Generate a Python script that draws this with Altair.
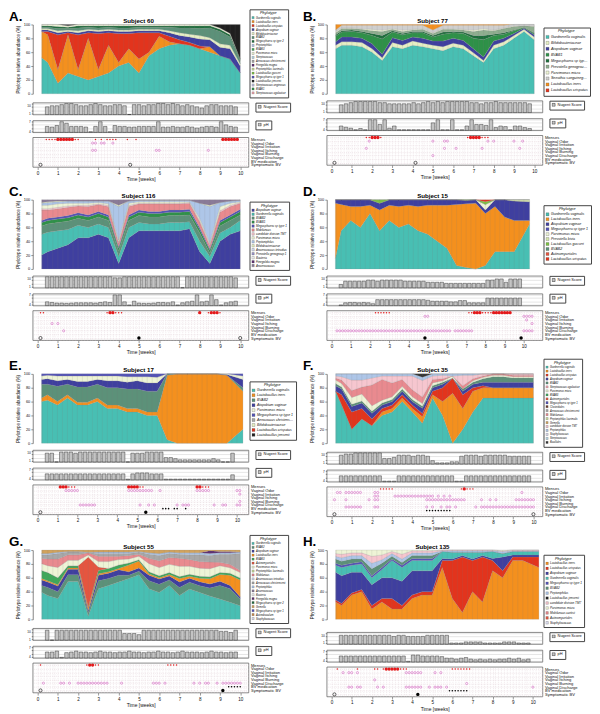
import altair as alt
import pandas as pd

# ---------------- data ----------------
T = [0.2, 0.5, 1.0, 1.5, 2.0, 2.5, 3.0, 3.5, 4.0, 4.5, 5.0, 5.5, 6.0, 6.5, 7.0, 7.5, 8.0, 8.5, 9.0, 9.5, 10.0]
T_LONG = [0.2, 0.5, 1.0, 1.5, 2.0, 2.5, 3.0, 3.5, 4.0, 4.5, 5.0, 5.5, 6.0, 6.5, 7.0, 7.5, 8.0, 8.5, 9.0, 9.5, 10.3]
TB = [0.25, 0.5, 0.75, 1.0, 1.25, 1.5, 1.75, 2.0, 2.25, 2.5, 2.75, 3.0, 3.25, 3.5, 3.75, 4.0, 4.25, 4.5, 4.75, 5.0,
      5.25, 5.5, 5.75, 6.0, 6.25, 6.5, 6.75, 7.0, 7.25, 7.5, 7.75, 8.0, 8.25, 8.5, 8.75, 9.0, 9.25, 9.5, 9.75, 10.0]

ROWS = ["Menses", "Vaginal Odor", "Vaginal Irritation", "Vaginal Itching", "Vaginal Burning",
        "Vaginal Discharge", "BV medication", "Symptomatic BV"]

COLORS = {
    "Gardnerella vaginalis": "#48bfb3", "Lactobacillus iners": "#f4901e", "Lactobacillus crispatus": "#e2341d",
    "Atopobium vaginae": "#3f3f9f", "Bifidobacteriaceae": "#e6efc4", "BVAB1": "#2e9148", "BVAB2": "#5c9179",
    "BVAB3": "#3fa85a", "Megasphaera sp type 1": "#5252b8", "Megasphaera sp type 2": "#1e6e3c",
    "Peptoniphilus": "#aec6e8", "Parvimonas micra": "#eef4d6", "Streptococcus": "#b7d7e6",
    "Aerococcus christensenii": "#a8a8a8", "Finegoldia magna": "#5d2c70", "Peptoniphilus lacrimalis": "#c9dd9a",
    "Lactobacillus gasseri": "#7cc242", "Lactobacillus jensenii": "#1f1f1f", "Streptococcus anginosus": "#c5c5e5",
    "Streptococcus agalactiae": "#f2a6b0", "Prevotella genogroup 2": "#8fae8f", "Prevotella genogroup 1": "#9a94c8",
    "Prevotella bivia": "#d5e5ad", "Sneathia sanguinegens": "#cfcfcf", "Mobiluncus": "#e98a8f",
    "Mobiluncus curtisii": "#e98a8f", "candidate division TM7": "#f6c6cf", "Anaerococcus": "#8a7b98",
    "Anaerococcus tetradius": "#d3dbf2", "Actinomycetales": "#e5553f", "Clostridiales": "#6b3a2a",
    "Gemella": "#d2a35c", "Staphylococcus": "#dcdcf0", "Bacillales": "#333333", "Bacteria": "#f2f2f2",
    "Actinobaculum": "#c98a4b",
}

# Subject 60 (A)
A_legend = ["Gardnerella vaginalis", "Lactobacillus iners", "Lactobacillus crispatus", "Atopobium vaginae",
            "Bifidobacteriaceae", "BVAB2", "Megasphaera sp type 2", "Peptoniphilus", "BVAB3", "Parvimonas micra",
            "Streptococcus", "Aerococcus christensenii", "Finegoldia magna", "Peptoniphilus lacrimalis",
            "Lactobacillus gasseri", "Megasphaera sp type 1", "Lactobacillus jensenii", "Streptococcus anginosus",
            "BVAB1", "Streptococcus agalactiae"]
A_series = {
    "Gardnerella vaginalis": [52, 45, 15, 30, 25, 20, 25, 30, 40, 45, 30, 55, 65, 70, 72, 70, 65, 60, 55, 50, 30],
    "Lactobacillus iners": [38, 40, 20, 55, 10, 60, 10, 40, 5, 20, 20, 5, 18, 5, 0, 0, 0, 8, 0, 0, 0],
    "Lactobacillus crispatus": [0, 5, 50, 3, 50, 8, 52, 18, 42, 22, 38, 28, 5, 8, 6, 4, 4, 0, 0, 0, 0],
    "Atopobium vaginae": [2, 2, 3, 2, 3, 3, 3, 3, 3, 3, 3, 3, 3, 5, 6, 8, 10, 10, 12, 15, 10],
    "Bifidobacteriaceae": [2, 2, 3, 2, 3, 2, 2, 2, 2, 2, 2, 2, 2, 3, 4, 4, 5, 3, 5, 5, 3],
    "BVAB2": [2, 2, 3, 2, 4, 3, 3, 3, 3, 3, 3, 3, 3, 5, 7, 9, 10, 14, 18, 12, 5],
    "Megasphaera sp type 2": [2, 2, 3, 2, 3, 2, 3, 2, 3, 3, 2, 2, 2, 2, 3, 3, 4, 3, 3, 3, 2],
    "Parvimonas micra": [2, 2, 3, 2, 2, 2, 2, 2, 2, 2, 2, 2, 2, 2, 2, 2, 2, 2, 2, 2, 0],
    "Lactobacillus jensenii": [0, 0, 0, 2, 0, 0, 0, 0, 0, 0, 0, 0, 0, 0, 0, 0, 0, 0, 5, 13, 50],
}
A_nug = [7, 8, 8, 9, 10, 10, 9, 8, 8, 9, 10, 9, 8, 8, 9, 9, 8, 0, 9, 9, 8, 9, 9, 10, 10, 9, 10, 9, 8, 9, 8, 7, 6, 8, 9, 9, 8, 8, 8, 7]
A_ph = [5.5, 5.3, 5.8, 7, 6.5, 5.5, 5.5, 5.5, 5.3, 3.8, 5.5, 7, 5.5, 3.8, 5.8, 5.5, 5.5, 5.3, 5.3, 5.5,
        5.5, 5.5, 5.5, 7, 5.3, 5.3, 5.5, 5.3, 5.3, 5.5, 5.3, 5, 5.3, 5.5, 5.5, 5.3, 7, 6, 5.5, 5.3]
A_ev = {"mlight": [3, 4, 5, 6, 13, 14, 20, 22, 24, 25, 26, 27, 31, 34],
        "mheavy": [7, 8, 9, 10, 11, 12, 64, 65, 66, 67, 68, 69],
        "odor": [19, 20, 22, 23, 26], "itch": [19, 20, 41, 42, 59], "sbv_open": [1, 32]}

# Subject 77 (B)
B_legend = ["Gardnerella vaginalis", "Bifidobacteriaceae", "Atopobium vaginae", "BVAB1", "Megasphaera sp type 2",
            "Prevotella genogroup 2", "Parvimonas micra", "Sneathia sanguinegens", "Lactobacillus iners",
            "Lactobacillus crispatus"]
B_series = {
    "Gardnerella vaginalis": [65, 70, 70, 68, 60, 48, 68, 65, 70, 68, 65, 62, 68, 65, 55, 45, 65, 70, 80, 90, 78],
    "Bifidobacteriaceae": [5, 5, 5, 6, 5, 4, 6, 5, 6, 5, 5, 6, 5, 5, 4, 3, 5, 5, 4, 3, 4],
    "Atopobium vaginae": [5, 7, 7, 6, 7, 5, 7, 7, 6, 7, 6, 8, 7, 7, 6, 5, 6, 5, 3, 2, 3],
    "BVAB1": [8, 7, 8, 8, 12, 22, 8, 8, 6, 8, 6, 10, 8, 10, 15, 25, 8, 6, 4, 1, 2],
    "Megasphaera sp type 2": [2, 2, 2, 2, 3, 5, 2, 2, 2, 2, 2, 3, 2, 2, 4, 6, 2, 2, 1, 0, 1],
    "Prevotella genogroup 2": [3, 3, 2, 3, 4, 6, 2, 3, 2, 3, 3, 4, 3, 3, 6, 8, 5, 6, 5, 2, 9],
    "Parvimonas micra": [2, 1, 1, 1, 2, 2, 1, 2, 1, 1, 1, 1, 1, 1, 2, 2, 1, 1, 1, 0, 1],
    "Sneathia sanguinegens": [2, 4, 4, 5, 6, 7, 5, 7, 6, 5, 4, 5, 5, 6, 7, 5, 7, 4, 2, 2, 2],
    "Lactobacillus iners": [8, 1, 1, 1, 1, 1, 1, 1, 1, 1, 8, 1, 1, 1, 1, 1, 1, 1, 0, 0, 0],
}
B_nug = [7, 8, 9, 10, 10, 10, 10, 10, 9, 9, 8, 8, 8, 8, 8, 9, 8, 9, 10, 9, 10, 9, 10, 10, 10, 10, 10, 9, 9, 8, 9, 9, 10, 9, 9, 9, 9, 9, 9, 8]
B_ph = [5, 4.6, 4.3, 3.8, 4.2, 3.8, 7, 7, 5.5, 7, 4.3, 5, 3.8, 3.8, 3.8, 3.8, 3.8, 3.8, 3.8, 6,
        7, 3.8, 3.8, 7, 3.8, 3.8, 5, 7, 5.5, 5.5, 5.2, 7, 4.5, 5, 4.8, 3.8, 5, 5, 4.5, 4.2]
B_ev = {"mlight": [12, 13, 17, 47, 52, 53, 54], "mheavy": [14, 15, 16, 48, 49, 50, 51],
        "odor": [13, 35, 39, 40, 54, 56, 63, 66], "itch": [12, 39, 43, 52, 65], "disch": [35],
        "sbv_open": [1, 29]}

# Subject 116 (C)
C_legend = ["Atopobium vaginae", "Gardnerella vaginalis", "BVAB2", "BVAB1", "Megasphaera sp type 1", "Mobiluncus",
            "candidate division TM7", "Parvimonas micra", "Peptoniphilus", "Bifidobacteriaceae",
            "Anaerococcus tetradius", "Prevotella genogroup 1", "Bacteria", "Finegoldia magna", "Anaerococcus"]
C_series = {
    "Atopobium vaginae": [20, 25, 30, 35, 45, 45, 50, 45, 8, 45, 55, 55, 55, 55, 55, 58, 25, 8, 40, 50, 55],
    "Gardnerella vaginalis": [30, 28, 25, 22, 18, 15, 15, 15, 10, 15, 12, 10, 10, 12, 12, 10, 15, 10, 12, 10, 15],
    "BVAB2": [12, 12, 12, 12, 10, 10, 10, 10, 8, 10, 10, 10, 10, 10, 10, 10, 12, 5, 10, 10, 8],
    "BVAB1": [5, 5, 5, 5, 5, 5, 5, 5, 4, 5, 5, 5, 5, 5, 5, 5, 5, 4, 5, 5, 5],
    "Megasphaera sp type 1": [3, 3, 3, 3, 3, 3, 3, 3, 2, 3, 3, 3, 3, 3, 3, 3, 3, 2, 3, 3, 3],
    "Mobiluncus": [15, 12, 12, 12, 10, 12, 10, 12, 5, 12, 9, 11, 11, 9, 9, 9, 8, 5, 12, 12, 9],
    "candidate division TM7": [2, 2, 2, 2, 1, 2, 1, 2, 2, 2, 1, 1, 1, 1, 1, 1, 2, 2, 2, 2, 1],
    "Parvimonas micra": [5, 5, 5, 4, 3, 3, 2, 2, 3, 3, 2, 2, 2, 2, 2, 1, 3, 2, 6, 3, 1],
    "Peptoniphilus": [3, 4, 3, 3, 3, 3, 2, 4, 48, 3, 2, 2, 2, 2, 2, 2, 22, 52, 6, 3, 2],
    "Bifidobacteriaceae": [1, 1, 1, 0, 0, 0, 0, 0, 2, 0, 0, 0, 0, 0, 0, 0, 0, 2, 0, 0, 0],
    "Anaerococcus": [4, 3, 2, 2, 2, 2, 2, 2, 8, 2, 1, 1, 1, 1, 1, 1, 5, 8, 4, 2, 1],
}
C_nug = [10, 10, 10, 10, 10, 10, 10, 10, 10, 10, 10, 10, 10, 10, 9, 9, 10, 10, 10, 10,
         10, 10, 10, 10, 10, 10, 10, 10, 0, 10, 10, 10, 10, 10, 10, 10, 10, 10, 10, 9]
C_ph = [4.8, 4.6, 4.4, 4.4, 4.3, 4.4, 4.5, 4.5, 4.5, 4.5, 4.4, 4.6, 4.8, 4.6, 7, 7, 4.8, 3.8, 5, 4.4,
        4.3, 4.3, 4.4, 4.6, 4.6, 4.5, 4.8, 3.8, 4.5, 4.8, 5, 7, 4.8, 5, 7, 5.5, 3.8, 4.5, 4.8, 5]
C_ev = {"mlight": [1, 2, 24, 27, 28, 29, 59, 63], "mheavy": [25, 26, 56, 60, 61, 62],
        "itch": [5, 7], "disch": [9], "sbv_open": [1, 70], "sbv_fill": [35]}

# Subject 15 (D)
D_legend = ["Gardnerella vaginalis", "Lactobacillus iners", "Atopobium vaginae", "Megasphaera sp type 1",
            "Parvimonas micra", "Prevotella bivia", "Lactobacillus gasseri", "BVAB2", "Actinomycetales",
            "Lactobacillus crispatus"]
D_series = {
    "Gardnerella vaginalis": [15, 55, 70, 60, 80, 55, 70, 60, 65, 55, 50, 40, 30, 5, 2, 0, 5, 25, 25, 25, 65],
    "Lactobacillus iners": [80, 38, 20, 30, 12, 30, 22, 30, 27, 35, 42, 52, 62, 88, 92, 95, 75, 65, 50, 45, 5],
    "Atopobium vaginae": [5, 7, 10, 10, 8, 10, 8, 10, 8, 10, 8, 8, 8, 7, 5, 5, 5, 10, 25, 28, 27],
    "Parvimonas micra": [0, 0, 0, 0, 0, 0, 0, 0, 0, 0, 0, 0, 0, 0, 0, 0, 8, 0, 0, 0, 0],
    "Prevotella bivia": [0, 0, 0, 0, 0, 0, 0, 0, 0, 0, 0, 0, 0, 0, 0, 0, 0, 0, 0, 2, 3],
    "Lactobacillus gasseri": [0, 0, 0, 0, 0, 5, 0, 0, 0, 0, 0, 0, 0, 0, 1, 0, 4, 0, 0, 0, 0],
    "Lactobacillus crispatus": [0, 0, 0, 0, 0, 0, 0, 0, 0, 0, 0, 0, 0, 0, 0, 0, 3, 0, 0, 0, 0],
}
D_nug = [3, 6, 6, 6, 6, 6, 7, 7, 6, 7, 7, 7, 7, 7, 6, 6, 6, 6, 6, 5, 5, 5, 5, 4, 4, 4, 4, 4, 4, 4, 4, 4, 7, 7, 8, 8, 5, 8, 8, 8]
D_ph = [3.8, 4.5, 4.6, 4.6, 4.5, 4.6, 4.5, 4.2, 5.5, 5.5, 5.5, 5.5, 5.5, 5.5, 5.5, 5.5, 5.5, 5.5, 5.5, 5.3,
        5, 5, 5, 5, 4.8, 4.8, 5.2, 5.2, 4.5, 4.5, 4.5, 4.5, 6, 6, 6, 6, 6, 6, 6, 6]
D_ev = {"mlight": [16, 17, 18, 19, 20, 21, 50, 51, 55, 56, 57, 58],
        "mheavy": [52, 53, 54, 59, 60, 61, 62, 63, 64, 65],
        "odor": [34, 35, 70, 71, 72, 73], "irrit": [71], "itch": [73],
        "disch": [2, 3, 4, 5, 6, 7, 8, 9, 10, 11, 12, 13, 14, 15, 16, 17, 18, 19, 20, 21, 22,
                  23, 24, 25, 26, 27, 28, 29, 30, 31, 32, 33, 34, 35, 36, 37, 38, 39, 40, 41, 42, 43,
                  45, 46, 47, 48, 49, 50, 51, 70, 71, 72, 73],
        "sbv_fill": [34, 69]}

# Subject 17 (E)
E_legend = ["Gardnerella vaginalis", "Lactobacillus iners", "BVAB2", "Atopobium vaginae", "Parvimonas micra",
            "Megasphaera sp type 1", "Aerococcus christensenii", "Bifidobacteriaceae", "Lactobacillus crispatus",
            "Lactobacillus jensenii"]
E_series = {
    "Gardnerella vaginalis": [60, 62, 55, 65, 55, 55, 60, 50, 50, 45, 45, 40, 40, 5, 0, 0, 0, 0, 0, 0, 20],
    "Lactobacillus iners": [5, 8, 5, 5, 4, 4, 5, 5, 5, 5, 5, 5, 5, 93, 100, 100, 100, 100, 100, 98, 55],
    "BVAB2": [20, 15, 22, 15, 22, 22, 20, 25, 25, 28, 28, 30, 30, 2, 0, 0, 0, 0, 0, 0, 5],
    "Atopobium vaginae": [7, 8, 8, 7, 8, 8, 7, 10, 10, 10, 12, 12, 12, 0, 0, 0, 0, 0, 0, 1, 12],
    "Parvimonas micra": [5, 5, 7, 5, 8, 8, 5, 7, 7, 8, 6, 9, 8, 0, 0, 0, 0, 0, 0, 1, 5],
    "Megasphaera sp type 1": [3, 2, 3, 3, 3, 3, 3, 3, 3, 4, 4, 4, 5, 0, 0, 0, 0, 0, 0, 0, 3],
}
E_nug = [8, 8, 0, 9, 9, 9, 8, 9, 9, 9, 9, 9, 9, 9, 9, 9, 9, 0, 8, 8, 8, 9, 9, 9, 9, 4, 4, 3, 2, 2, 2, 2, 2, 2, 2, 3, 2, 0, 0, 8]
E_ph = [5.5, 5.5, 5.5, 5.5, 5.5, 5.5, 5.5, 5.5, 5.5, 5.5, 5.5, 5.5, 5.5, 5.5, 5.5, 5.5, 5.5, 3.8, 5.5, 5.8,
        5.8, 5.8, 5.5, 5.5, 5.5, 3.8, 3.8, 3.8, 3.8, 3.8, 3.8, 3.8, 3.8, 3.8, 3.8, 3.8, 3.8, 3.8, 3.8, 5.2]
E_ev = {"mlight": [11, 12, 13, 36, 37, 58, 59, 60], "mheavy": [8, 9, 10, 32, 33, 34, 35, 56, 57],
        "odor": [10, 11, 12, 13, 14, 32, 33, 34, 35, 36, 37, 38, 39, 40, 43, 56, 57, 58, 59, 60, 70, 71],
        "irrit": [71], "burn": [71],
        "disch": [15, 16, 17, 18, 19, 20, 36, 39, 41, 49, 51, 52, 53, 62, 65, 66, 70, 71],
        "med": [44, 45, 46, 48, 49, 52], "sbv_open": [1], "sbv_fill": [38]}

# Subject 35 (F)
F_legend = ["Gardnerella vaginalis", "Lactobacillus iners", "Lactobacillus crispatus", "Atopobium vaginae", "BVAB2",
            "Streptococcus agalactiae", "Parvimonas micra", "BVAB3", "Actinomycetales", "Megasphaera sp type 1",
            "Clostridiales", "Aerococcus christensenii", "Mobiluncus", "Peptoniphilus lacrimalis", "Gemella",
            "candidate division TM7", "Peptoniphilus", "Staphylococcus", "Streptococcus", "Bacillales"]
F_series = {
    "Gardnerella vaginalis": [75, 55, 20, 35, 25, 40, 45, 60, 45, 30, 65, 40, 0, 20, 45, 65, 65, 65, 65, 65, 65],
    "Lactobacillus iners": [0, 0, 0, 0, 0, 5, 5, 5, 5, 10, 5, 20, 72, 30, 30, 15, 15, 15, 15, 15, 15],
    "Lactobacillus crispatus": [0, 15, 25, 15, 10, 5, 5, 5, 5, 5, 5, 20, 22, 20, 5, 3, 0, 0, 0, 0, 0],
    "Atopobium vaginae": [8, 8, 8, 8, 8, 5, 5, 5, 5, 8, 5, 5, 0, 5, 5, 5, 8, 8, 8, 8, 8],
    "BVAB2": [3, 3, 3, 3, 3, 3, 3, 3, 3, 3, 3, 3, 0, 3, 3, 5, 8, 8, 6, 6, 6],
    "Parvimonas micra": [5, 5, 10, 10, 8, 4, 4, 4, 4, 4, 4, 2, 3, 0, 2, 2, 2, 2, 2, 2, 2],
    "Mobiluncus": [3, 5, 10, 10, 30, 30, 20, 10, 10, 10, 5, 3, 0, 5, 3, 2, 2, 2, 2, 2, 2],
    "candidate division TM7": [3, 5, 15, 10, 10, 5, 10, 5, 20, 25, 5, 5, 0, 15, 5, 3, 0, 0, 2, 2, 2],
    "Peptoniphilus": [3, 4, 9, 9, 6, 3, 3, 3, 3, 5, 3, 2, 3, 2, 2, 0, 0, 0, 0, 0, 0],
    "Bacillales": [0, 0, 0, 0, 0, 0, 0, 0, 0, 5, 0, 0, 0, 0, 0, 0, 0, 0, 0, 0, 0],
}
F_nug = [8, 9, 9, 10, 10, 10, 10, 10, 10, 5, 5, 6, 8, 8, 8, 7, 8, 8, 7, 3, 1, 1, 1, 2, 2, 7, 8, 8, 8, 7, 8, 8, 8, 8, 8, 7, 7, 7, 7, 7]
F_ph = [5.5, 5.5, 5.5, 5.5, 5.5, 5.5, 5.5, 5.5, 5.5, 3.8, 3.8, 3.8, 5.5, 5.5, 5.5, 5.5, 5.5, 5.5, 5.5, 5.5,
        5.5, 5.5, 5.5, 5.5, 3.8, 3.8, 5.5, 5.5, 5.5, 5.5, 5.5, 5.5, 5.5, 5.5, 5.5, 5.5, 5.5, 5.5, 5.5, 5.5]
F_ev = {"mlight": [17, 18, 19, 20, 21, 45, 47, 48, 49], "mheavy": [46],
        "odor": [2, 3, 5, 6, 7, 8, 9, 10, 15, 16, 66],
        "irrit": [15, 16, 22, 23, 24, 25, 26, 27, 28, 29, 30, 31, 32, 33, 34, 35, 37, 39, 41],
        "itch": [1, 5, 13, 15, 16, 33, 34, 35, 36, 37, 38, 39, 40, 41, 42, 43, 44, 45, 46, 52, 55, 57,
                 64, 65, 66, 67, 68, 69, 70],
        "disch": [5, 6, 7, 8, 9, 10, 15, 16, 33, 35, 38, 40, 41, 43, 50, 52, 53, 54, 55, 56, 57,
                  58, 59, 60, 61, 62, 63, 64, 65, 66, 67, 68, 69, 70],
        "med": [33, 34, 35, 36, 37, 38, 39, 40, 41], "sbv_open": [1, 70]}

# Subject 55 (G)
G_legend = ["Gardnerella vaginalis", "BVAB2", "Atopobium vaginae", "Lactobacillus iners", "BVAB3", "Actinomycetales",
            "Parvimonas micra", "Peptoniphilus lacrimalis", "Mobiluncus", "Anaerococcus tetradius",
            "Aerococcus christensenii", "Peptoniphilus", "Anaerococcus", "Bacteria", "Finegoldia magna",
            "Megasphaera sp type 2", "Gemella", "Megasphaera sp type 1", "Actinobaculum", "Staphylococcus"]
G_series = {
    "Gardnerella vaginalis": [40, 35, 30, 55, 55, 5, 45, 50, 55, 60, 65, 45, 40, 50, 35, 45, 40, 35, 30, 25, 20],
    "BVAB2": [10, 12, 10, 10, 10, 5, 12, 10, 10, 5, 5, 12, 12, 8, 12, 10, 10, 12, 20, 20, 10],
    "Atopobium vaginae": [8, 8, 8, 8, 8, 3, 8, 8, 8, 5, 5, 8, 8, 6, 8, 6, 6, 6, 6, 5, 3],
    "Lactobacillus iners": [2, 2, 2, 2, 2, 5, 2, 2, 2, 10, 10, 2, 2, 2, 5, 3, 5, 8, 10, 15, 25],
    "BVAB3": [12, 12, 10, 3, 3, 0, 5, 5, 5, 3, 2, 3, 3, 3, 3, 3, 3, 3, 3, 3, 3],
    "Actinomycetales": [0, 0, 0, 0, 0, 72, 5, 0, 0, 0, 0, 0, 0, 0, 0, 0, 0, 0, 0, 0, 0],
    "Parvimonas micra": [10, 10, 15, 8, 8, 3, 8, 10, 8, 6, 5, 12, 12, 12, 15, 12, 12, 12, 10, 8, 8],
    "Mobiluncus": [8, 10, 12, 8, 8, 3, 8, 8, 5, 5, 3, 8, 10, 10, 12, 10, 10, 10, 5, 5, 3],
    "Aerococcus christensenii": [5, 6, 8, 4, 4, 0, 4, 4, 4, 3, 3, 6, 8, 6, 6, 7, 10, 10, 12, 15, 25],
    "Peptoniphilus": [2, 2, 2, 1, 1, 1, 2, 2, 2, 2, 1, 2, 3, 2, 2, 3, 3, 3, 2, 2, 2],
    "Finegoldia magna": [0, 0, 0, 0, 0, 0, 0, 0, 0, 0, 0, 0, 0, 0, 0, 0, 0, 4, 2, 2, 0],
    "Gemella": [5, 5, 3, 2, 2, 3, 3, 3, 3, 3, 2, 4, 5, 3, 4, 4, 4, 1, 2, 2, 3],
}
G_nug = [9, 0, 9, 9, 9, 9, 9, 9, 9, 9, 9, 9, 9, 9, 9, 9, 6, 6, 6, 5, 9, 9, 9, 9, 9, 9, 9, 9, 9, 9, 9, 9, 9, 9, 9, 9, 8, 8, 7, 9]
G_ph = [5.5, 5.5, 5.8, 3.8, 5.3, 5.5, 5.8, 5.5, 5.5, 5.3, 5.5, 5.8, 5.5, 5.5, 5.3, 5.5, 5.5, 5.8, 5.5, 5.5,
        5.3, 5.5, 5.5, 5.8, 5.5, 5.5, 5.3, 5.5, 5.8, 5.5, 5.5, 5.5, 5.3, 5.5, 5.8, 5.5, 5.5, 5.3, 5.5, 5.5]
G_ev = {"mlight": [1, 17, 20, 21, 45, 46, 47, 48], "mheavy": [18, 19],
        "disch": [2, 8, 9, 11, 14, 15, 16, 17, 18, 19, 20, 21, 22, 23, 24, 29, 40, 41, 42, 44, 54, 56, 58,
                  59, 62, 64, 65, 66, 67, 68, 69, 70],
        "med": [66, 67, 68, 69, 70], "sbv_open": [1], "sbv_fill": [64]}

# Subject 135 (H)
H_legend = ["Lactobacillus iners", "Lactobacillus crispatus", "Atopobium vaginae", "Gardnerella vaginalis",
            "Megasphaera sp type 1", "BVAB2", "Peptoniphilus", "Lactobacillus jensenii", "candidate division TM7",
            "Parvimonas micra", "Mobiluncus curtisii", "Actinomycetales", "Staphylococcus"]
H_series = {
    "Lactobacillus iners": [25, 20, 35, 40, 15, 25, 15, 15, 30, 35, 35, 75, 30, 10, 40, 25, 70, 60, 85, 85, 75],
    "Lactobacillus crispatus": [3, 3, 3, 3, 5, 5, 15, 5, 5, 5, 5, 10, 55, 80, 45, 65, 15, 10, 5, 5, 15],
    "Atopobium vaginae": [40, 40, 30, 25, 30, 30, 30, 35, 35, 30, 30, 3, 2, 2, 2, 2, 3, 20, 3, 3, 3],
    "Gardnerella vaginalis": [10, 12, 10, 12, 10, 12, 25, 20, 15, 15, 15, 10, 10, 5, 10, 5, 10, 5, 5, 5, 5],
    "Megasphaera sp type 1": [3, 3, 3, 3, 3, 3, 2, 3, 3, 3, 3, 0, 0, 0, 0, 0, 0, 0, 0, 0, 0],
    "BVAB2": [6, 6, 6, 4, 10, 6, 4, 4, 4, 4, 4, 0, 0, 0, 0, 0, 0, 0, 0, 0, 0],
    "Peptoniphilus": [4, 5, 5, 5, 8, 5, 4, 5, 4, 4, 4, 1, 2, 2, 2, 2, 1, 3, 1, 1, 1],
    "candidate division TM7": [4, 5, 4, 4, 10, 7, 3, 7, 3, 3, 3, 1, 1, 1, 1, 1, 1, 1, 1, 1, 1],
    "Parvimonas micra": [5, 6, 4, 4, 9, 7, 2, 6, 1, 1, 1, 0, 0, 0, 0, 0, 0, 1, 0, 0, 0],
}
H_nug = [8, 8, 8, 8, 8, 8, 8, 8, 8, 8, 8, 7, 8, 8, 7, 7, 7, 7, 8, 8, 8, 8, 8, 1, 1, 1, 2, 2, 2, 2, 1, 1, 1, 1, 2, 2, 2, 1, 1, 1]
H_ph = [5.5, 5.5, 5.5, 5.5, 5.5, 5.5, 5.5, 5.5, 5.5, 5.5, 5.5, 5.5, 5.5, 5.5, 3.8, 5.8, 5.8, 5.5, 5.5, 5.5,
        5.5, 5.3, 4.8, 4.8, 4.5, 4.8, 5, 4.5, 4.3, 4.5, 4.3, 4.5, 4.3, 4.5, 4.5, 4.8, 4.5, 4.8, 4.3, 4.5]
H_ev = {"mlight": [2, 9, 15, 16, 18, 24, 25, 26, 42, 43, 44, 45, 46, 47, 48], "mheavy": [19, 20, 21, 22, 23],
        "odor": [4, 6, 7, 9, 26, 27, 28, 29, 30, 31, 36, 38], "itch": [15], "burn": [47],
        "disch": [6, 7, 9, 10, 16, 18, 26, 27, 28, 29, 30, 31, 34, 36, 37, 38, 40, 70],
        "med": [41, 42, 43, 44, 45, 46, 47], "sbv_open": [1], "sbv_fill": [30]}

SUBJECTS = [
    dict(letter="A.", sid="60", legend=A_legend, series=A_series, times=T, nug=A_nug, ph=A_ph, ev=A_ev, xmin=-0.24, xmax=10.41, lf=2.7, lp=3.35),
    dict(letter="B.", sid="77", legend=B_legend, series=B_series, times=T, nug=B_nug, ph=B_ph, ev=B_ev, xmin=-0.24, xmax=10.41, lf=3.7, lp=5.4),
    dict(letter="C.", sid="116", legend=C_legend, series=C_series, times=T, nug=C_nug, ph=C_ph, ev=C_ev, xmin=-0.24, xmax=10.41, lf=3.0, lp=3.7),
    dict(letter="D.", sid="15", legend=D_legend, series=D_series, times=T_LONG, nug=D_nug, ph=D_ph, ev=D_ev, xmin=-0.25, xmax=10.97, lf=3.6, lp=4.9),
    dict(letter="E.", sid="17", legend=E_legend, series=E_series, times=T_LONG, nug=E_nug, ph=E_ph, ev=E_ev, xmin=-0.24, xmax=10.58, lf=3.5, lp=4.5),
    dict(letter="F.", sid="35", legend=F_legend, series=F_series, times=T, nug=F_nug, ph=F_ph, ev=F_ev, xmin=-0.24, xmax=10.45, lf=2.7, lp=3.35),
    dict(letter="G.", sid="55", legend=G_legend, series=G_series, times=T, nug=G_nug, ph=G_ph, ev=G_ev, xmin=-0.24, xmax=10.41, lf=2.7, lp=3.35),
    dict(letter="H.", sid="135", legend=H_legend, series=H_series, times=T_LONG, nug=H_nug, ph=H_ph, ev=H_ev, xmin=-0.24, xmax=10.48, lf=3.1, lp=3.9),
]

KIND_ROW = {"mlight": "Menses", "mheavy": "Menses", "odor": "Vaginal Odor", "irrit": "Vaginal Irritation",
            "itch": "Vaginal Itching", "burn": "Vaginal Burning", "disch": "Vaginal Discharge",
            "med": "BV medication", "sbv_open": "Symptomatic BV", "sbv_fill": "Symptomatic BV"}
KIND_MARK = {"mlight": "mlight", "mheavy": "mheavy", "odor": "sym", "irrit": "sym", "itch": "sym",
             "burn": "sym", "disch": "sym", "med": "med", "sbv_open": "sbv_open", "sbv_fill": "sbv_fill"}

# ---------------- styling ----------------
W = 218
AH = 70
DH = 30
FONT = "Liberation Sans"
RED = "#e41a1c"
PINK = "#d46cc4"
GRIDC = "#dcc6cf"


def make_panel(s):
    xs = alt.Scale(domain=[s["xmin"], s["xmax"]], nice=False, zero=False)

    rows = []
    for i, name in enumerate(s["legend"]):
        if name in s["series"]:
            for t, v in zip(s["times"], s["series"][name]):
                rows.append({"t": t, "p": name, "v": v, "o": i})
    adf = pd.DataFrame(rows)

    n = len(s["legend"])
    f, lp = s["lf"], s["lp"]
    pitch = max(lp, 1.25 * f)
    leg_h = 2 * 2 + 4.8 + 1 + n * pitch
    ly = (AH - leg_h) / 2 if leg_h < AH - 2 else AH - leg_h - 8

    area = alt.Chart(adf).mark_area(interpolate="linear", stroke="#8a8a8a", strokeWidth=0.2).encode(
        x=alt.X("t:Q", scale=xs, axis=None),
        y=alt.Y("v:Q", stack="normalize",
                axis=alt.Axis(values=[0, 0.2, 0.4, 0.6, 0.8, 1.0], labelExpr="round(datum.value*100)",
                              labelFontSize=4, tickSize=2, labelPadding=1, titleFontSize=4.6,
                              titlePadding=3, titleFontWeight="normal", grid=False,
                              title="Phylotype relative abundance (%)")),
        color=alt.Color("p:N", scale=alt.Scale(domain=s["legend"], range=[COLORS[k] for k in s["legend"]]),
                        legend=alt.Legend(title="Phylotype", titleFontSize=3.8, titleFontStyle="italic",
                                          titleFontWeight="normal", titleAnchor="middle", titlePadding=1,
                                          labelFontSize=f, labelFontStyle="italic", labelLimit=38,
                                          labelOffset=1.5, symbolSize=(f * 0.85) ** 2, symbolType="square",
                                          symbolStrokeColor="#555", symbolStrokeWidth=0.3,
                                          clipHeight=lp, rowPadding=0,
                                          padding=2, strokeColor="#444", orient="none",
                                          legendX=W + 1, legendY=ly)),
        order=alt.Order("o:Q"),
    )
    tdf = pd.DataFrame({"t": [t for t in TB if t <= s["times"][-1]]})
    stripes = alt.Chart(tdf).mark_rule(color="#777777", strokeWidth=0.3, opacity=0.45).encode(
        x=alt.X("t:Q", scale=xs, axis=None), y=alt.value(0), y2=alt.value(AH))
    letter = alt.Chart(pd.DataFrame({"lab": [s["letter"]]})).mark_text(
        align="left", baseline="alphabetic", fontSize=13.5, fontWeight="bold", font=FONT
    ).encode(x=alt.value(-24), y=alt.value(-4), text="lab:N")
    subj = alt.Chart(pd.DataFrame({"lab": ["Subject  " + s["sid"]]})).mark_text(
        align="center", baseline="alphabetic", fontSize=6.2, fontWeight="bold", font=FONT
    ).encode(x=alt.value(W * 0.49), y=alt.value(-1.5), text="lab:N")

    top = alt.layer(area, stripes, letter, subj).properties(
        width=W, height=AH, view=alt.ViewBackground(stroke="transparent"))

    ndf = pd.DataFrame({"t": TB, "n": s["nug"]})
    nug = alt.Chart(ndf).mark_bar(size=3.6, stroke="#111", strokeWidth=0.4).encode(
        x=alt.X("t:Q", scale=xs, axis=None),
        y=alt.Y("n:Q", scale=alt.Scale(domain=[0, 10.8], nice=False),
                axis=alt.Axis(values=[1, 4, 7, 10], labelFontSize=3.2, tickSize=1.5, labelPadding=1,
                              labelFlush=True, grid=True, gridColor="#aaaaaa", gridWidth=0.3,
                              domain=False, title=None)),
        color=alt.Color("lab:N", scale=alt.Scale(domain=["Nugent Score"], range=["#c4c4c4"]),
                        legend=alt.Legend(title=None, orient="right", offset=7, labelFontSize=4,
                                          symbolType="square", symbolSize=9, symbolStrokeColor="#222",
                                          symbolStrokeWidth=0.5, padding=2.2, strokeColor="#444",
                                          labelOffset=2, clipHeight=4)),
    ).transform_calculate(lab="'Nugent Score'").properties(width=W, height=12)

    pdf = pd.DataFrame({"t": TB, "ph": s["ph"]})
    ph = alt.Chart(pdf).mark_bar(size=3.6, stroke="#111", strokeWidth=0.4).encode(
        x=alt.X("t:Q", scale=xs, axis=None),
        y=alt.Y("ph:Q", scale=alt.Scale(domain=[3.6, 7.4], nice=False, zero=False, clamp=True),
                axis=alt.Axis(values=[4, 5, 6, 7], labelFontSize=3.2, tickSize=1.5, labelPadding=1,
                              labelFlush=True, grid=True, gridColor="#aaaaaa", gridWidth=0.3,
                              domain=False, title=None)),
        color=alt.Color("lab:N", scale=alt.Scale(domain=["pH"], range=["#c4c4c4"]),
                        legend=alt.Legend(title=None, orient="right", offset=7, labelFontSize=4,
                                          symbolType="square", symbolSize=9, symbolStrokeColor="#222",
                                          symbolStrokeWidth=0.5, padding=2.2, strokeColor="#444",
                                          labelOffset=2, clipHeight=4)),
    ).transform_calculate(lab="'pH'").properties(width=W, height=12)

    erows = []
    for kind, days in s["ev"].items():
        for d in days:
            erows.append({"wk": d / 7, "row": KIND_ROW[kind], "kind": KIND_MARK[kind]})
    edf = pd.DataFrame(erows)

    grid_vals = [d / 7 for d in range(0, int(s["xmax"] * 7) + 1)]
    xaxis = alt.Axis(values=grid_vals, labelExpr="datum.value % 1 === 0 ? format(datum.value, 'd') : ''",
                     labelOverlap=False, labelFontSize=4.6, labelPadding=1, tickSize=2.5,
                     tickOpacity={"condition": {"test": "datum.value % 1 === 0", "value": 1}, "value": 0},
                     domain=False, grid=True, gridColor=GRIDC, gridDash=[1, 1], gridWidth=0.4,
                     title="Time [weeks]", titleFontSize=5, titleFontWeight="normal", titlePadding=1.5)
    yaxis = alt.Axis(orient="right", ticks=False, domain=False, labelFontSize=4.1, labelPadding=2,
                     grid=True, gridColor=GRIDC, gridDash=[1, 1], gridWidth=0.4, title=None, labelLimit=80)
    base = alt.Chart(edf).encode(
        x=alt.X("wk:Q", scale=xs, axis=xaxis),
        y=alt.Y("row:N", scale=alt.Scale(domain=ROWS, type="point", padding=0.6), axis=yaxis),
    )
    dots = alt.layer(
        base.transform_filter(alt.datum.kind == "sym").mark_point(shape="circle", filled=False, color=PINK,
                                                                   size=5, strokeWidth=0.6, opacity=1),
        base.transform_filter(alt.datum.kind == "mlight").mark_circle(color=RED, size=2.2, opacity=1),
        base.transform_filter(alt.datum.kind == "mheavy").mark_circle(color=RED, size=11, opacity=1),
        base.transform_filter(alt.datum.kind == "med").mark_circle(color="black", size=2.5, opacity=1),
        base.transform_filter(alt.datum.kind == "sbv_open").mark_point(shape="circle", filled=False,
                                                                        color="black", size=10,
                                                                        strokeWidth=0.6, opacity=1),
        base.transform_filter(alt.datum.kind == "sbv_fill").mark_circle(color="black", size=12, opacity=1),
    ).properties(width=W, height=DH)

    return alt.vconcat(top, nug, ph, dots, spacing=3).resolve_scale(
        x="independent", y="independent", color="independent")


panels = [make_panel(s) for s in SUBJECTS]

chart = alt.concat(*panels, columns=2, spacing={"row": 2, "column": 5}).resolve_scale(
    x="independent", y="independent", color="independent"
).properties(padding={"top": -4, "left": 0, "right": 0, "bottom": 0}, background="white").configure(
    font=FONT
).configure_view(
    stroke="#555", strokeWidth=0.7
).configure_axis(
    domainColor="#333", tickColor="#333", labelColor="#111", titleColor="#111",
    labelFont=FONT, titleFont=FONT, domainWidth=0.6, tickWidth=0.5
).configure_legend(
    labelFont=FONT, titleFont=FONT, labelColor="#111"
).configure_title(font=FONT, color="#111")

chart.save("out.html", embed_options={"renderer": "svg", "actions": False})
